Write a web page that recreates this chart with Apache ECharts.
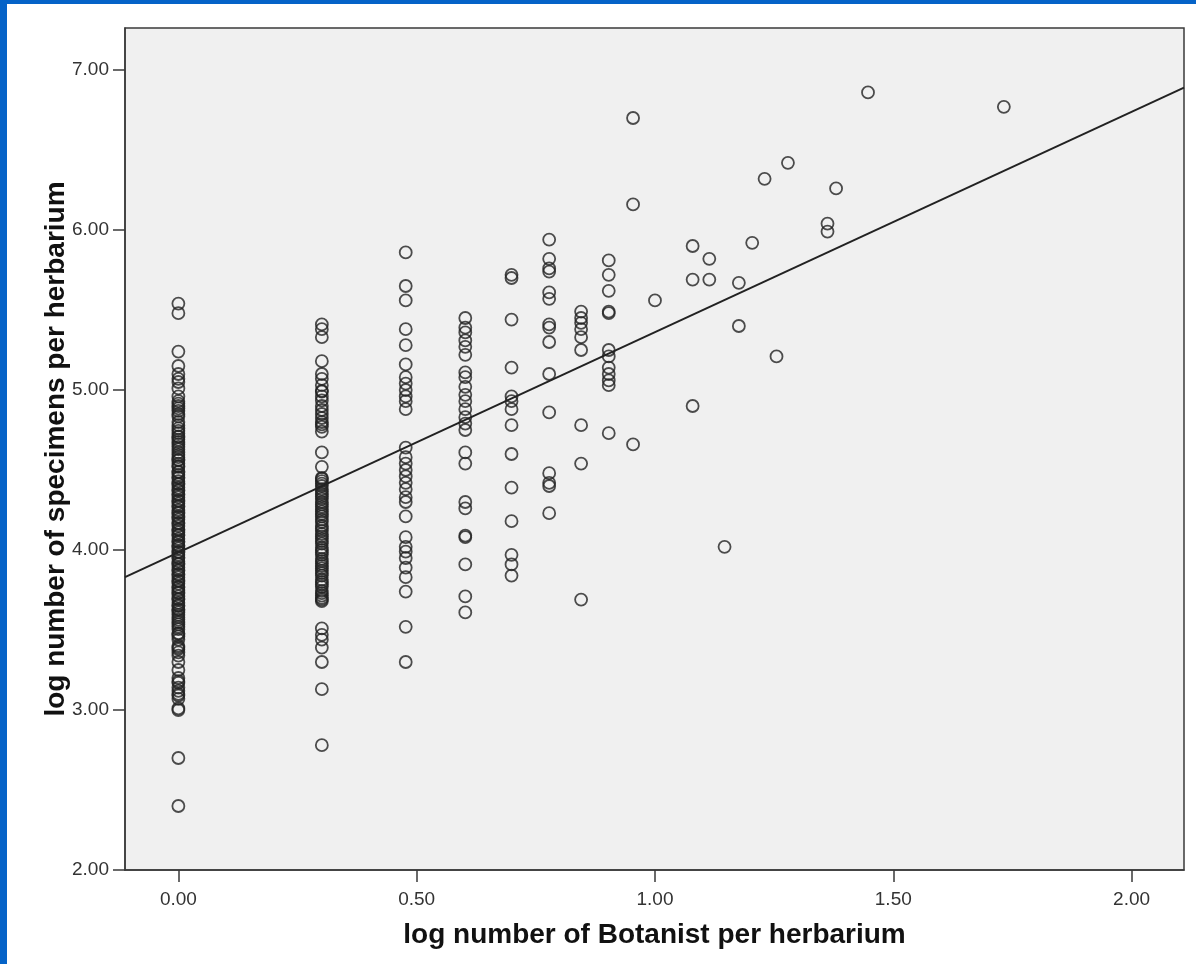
<!DOCTYPE html>
<html>
<head>
<meta charset="utf-8">
<title>Specimens vs botanists per herbarium</title>
<script src="https://cdn.jsdelivr.net/npm/echarts@6/dist/echarts.min.js"></script>
<style>
  html, body { margin: 0; padding: 0; background: #0563c8; }
  #page { position: absolute; left: 7px; top: 4px; right: 0; bottom: 0; background: #fff; }
  #chart { position: absolute; left: 0; top: 0; width: 1196px; height: 964px; }
</style>
</head>
<body>
<div id="page"></div>
<div id="chart"></div>
<script>
  // log10 of botanists per herbarium (x) -> log10 of specimens (y)
  var y1bot = [5.54, 5.48, 5.24, 5.15, 5.10, 5.07, 5.05, 5.01, 4.96, 4.93, 4.90, 4.87, 4.85, 4.80, 4.78,
               4.76, 4.73, 4.71, 4.69, 4.66, 4.63, 4.61, 4.58, 4.56, 4.54, 4.52, 4.49, 4.47, 4.45, 4.43,
               4.41, 4.39, 4.37, 4.35, 4.33, 4.31, 4.29, 4.27, 4.25, 4.23, 4.21, 4.19, 4.17, 4.15, 4.13,
               4.11, 4.09, 4.07, 4.05, 4.03, 4.01, 3.99, 3.97, 3.95, 3.93, 3.91, 3.89, 3.87, 3.85, 3.83,
               3.81, 3.79, 3.77, 3.75, 3.73, 3.71, 3.69, 3.67, 3.65, 3.63, 3.61, 3.58, 3.55, 3.52, 3.48,
               3.46, 3.40, 3.38, 3.34, 3.30, 3.25, 3.20, 3.17, 3.14, 3.12, 3.09, 3.07, 3.01, 3.00, 2.70, 2.40,
               4.915, 4.885, 4.835, 4.745, 4.705, 4.675, 4.645, 4.595, 4.565, 4.525, 4.485, 4.455, 4.415,
               4.375, 4.345, 4.305, 4.275, 4.235, 4.205, 4.165, 4.125, 4.095, 4.055, 4.025, 3.985, 3.955,
               3.915, 3.875, 3.845, 3.805, 3.765, 3.735, 3.695, 3.655, 3.625, 3.595, 3.565, 3.535, 3.505,
               3.475, 3.44, 3.39, 3.36, 3.18, 3.10];
  var y2bot = [5.41, 5.38, 5.33, 5.18, 5.10, 5.07, 5.03, 4.99, 4.96, 4.90, 4.85, 4.80, 4.77, 4.74, 4.61,
               4.52, 4.45, 4.43, 4.40, 4.38, 4.35, 4.32, 4.30, 4.27, 4.24, 4.21, 4.19, 4.15, 4.12, 4.10,
               4.07, 4.04, 4.00, 3.97, 3.93, 3.90, 3.87, 3.84, 3.80, 3.77, 3.73, 3.70, 3.68, 3.51, 3.47,
               3.44, 3.39, 3.30, 3.13, 2.78,
               4.995, 4.935, 4.875, 4.825, 4.785, 4.445, 4.415, 4.365, 4.335, 4.285, 4.255, 4.225, 4.175,
               4.135, 4.085, 4.055, 4.015, 3.985, 3.945, 3.915, 3.885, 3.855, 3.815, 3.785, 3.745, 3.715, 3.69];
  var y3bot = [5.86, 5.65, 5.56, 5.38, 5.28, 5.16, 5.08, 5.04, 5.00, 4.96, 4.93, 4.88, 4.64, 4.58, 4.54,
               4.50, 4.46, 4.42, 4.38, 4.33, 4.30, 4.21, 4.08, 4.02, 3.99, 3.95, 3.89, 3.83, 3.74, 3.52, 3.30];
  var y4bot = [5.45, 5.39, 5.36, 5.31, 5.27, 5.22, 5.11, 5.08, 5.02, 4.97, 4.93, 4.88, 4.83, 4.79, 4.75,
               4.61, 4.54, 4.30, 4.26, 4.09, 4.08, 3.91, 3.71, 3.61];
  var y5bot = [5.72, 5.70, 5.44, 5.14, 4.96, 4.93, 4.88, 4.78, 4.60, 4.39, 4.18, 3.97, 3.91, 3.84];
  var y6bot = [5.94, 5.82, 5.76, 5.74, 5.61, 5.57, 5.41, 5.39, 5.30, 5.10, 4.86, 4.48, 4.42, 4.40, 4.23];
  var y7bot = [5.49, 5.45, 5.42, 5.38, 5.33, 5.25, 4.78, 4.54, 3.69];
  var y8bot = [5.81, 5.72, 5.62, 5.49, 5.48, 5.25, 5.21, 5.14, 5.10, 5.06, 5.03, 4.73];
  var y9bot = [6.70, 6.16, 4.66];
  // the sparse right part: one x with one y each
  var xSparse = [1.000, 1.079, 1.079, 1.079, 1.114, 1.114, 1.146, 1.176, 1.176, 1.204, 1.230, 1.255,
                 1.279, 1.362, 1.362, 1.380, 1.447, 1.732];
  var ySparse = [5.56, 5.90, 5.69, 4.90, 5.82, 5.69, 4.02, 5.67, 5.40, 5.92, 6.32, 5.21,
                 6.42, 6.04, 5.99, 6.26, 6.86, 6.77];

  var colX = [0, 0.301, 0.477, 0.602, 0.699, 0.778, 0.845, 0.903, 0.954];
  var colY = [y1bot, y2bot, y3bot, y4bot, y5bot, y6bot, y7bot, y8bot, y9bot];

  // fit line end points at the plot edges
  var fitX = [-0.112, 2.11];
  var fitY = [3.83, 6.89];

  var xTicks = [0, 0.5, 1.0, 1.5, 2.0];
  var yTicks = [2, 3, 4, 5, 6, 7];

  var points = [];
  colX.forEach(function (x, i) {
    colY[i].forEach(function (y) { points.push([x, y]); });
  });
  xSparse.forEach(function (x, i) { points.push([x, ySparse[i]]); });

  var chart = echarts.init(document.getElementById('chart'));
  chart.setOption({
    backgroundColor: 'transparent',
    animation: false,
    grid: {
      left: 125, top: 28, right: 12, bottom: 94,
      show: true,
      backgroundColor: '#f0f0f0',
      borderColor: '#3a3a3a',
      borderWidth: 1.5
    },
    xAxis: {
      type: 'value',
      min: -0.112,
      max: 2.11,
      name: 'log number of Botanist per herbarium',
      nameLocation: 'middle',
      nameGap: 51,
      nameMoveOverlap: false,
      nameTextStyle: { fontFamily: 'Liberation Sans', fontWeight: 'bold', fontSize: 28, color: '#111' },
      splitLine: { show: false },
      axisLine: { show: true, onZero: false, lineStyle: { color: '#3a3a3a', width: 1.5 } },
      axisTick: { show: true, length: 12, customValues: xTicks, lineStyle: { color: '#3a3a3a', width: 1.5 } },
      axisLabel: {
        customValues: xTicks,
        margin: 20,
        fontFamily: 'Liberation Sans', fontSize: 19, color: '#333',
        formatter: function (v) { return v.toFixed(2); }
      }
    },
    yAxis: {
      type: 'value',
      min: 2,
      max: 7.2625,
      name: 'log number of specimens per herbarium',
      nameLocation: 'middle',
      nameGap: 55,
      nameMoveOverlap: false,
      nameTextStyle: { fontFamily: 'Liberation Sans', fontWeight: 'bold', fontSize: 28, color: '#111' },
      splitLine: { show: false },
      axisLine: { show: true, onZero: false, lineStyle: { color: '#3a3a3a', width: 1.5 } },
      axisTick: { show: true, length: 12, customValues: yTicks, lineStyle: { color: '#3a3a3a', width: 1.5 } },
      axisLabel: {
        customValues: yTicks,
        margin: 16,
        fontFamily: 'Liberation Sans', fontSize: 19, color: '#333',
        formatter: function (v) { return v.toFixed(2); }
      }
    },
    series: [
      {
        type: 'scatter',
        data: points,
        symbol: 'circle',
        symbolSize: 12,
        itemStyle: { color: 'rgba(0,0,0,0)', borderColor: '#222', borderWidth: 1.8 },
        silent: true
      },
      {
        type: 'line',
        data: [[fitX[0], fitY[0]], [fitX[1], fitY[1]]],
        symbol: 'none',
        lineStyle: { color: '#222', width: 2 },
        silent: true,
        z: 3
      }
    ]
  });
</script>
</body>
</html>
